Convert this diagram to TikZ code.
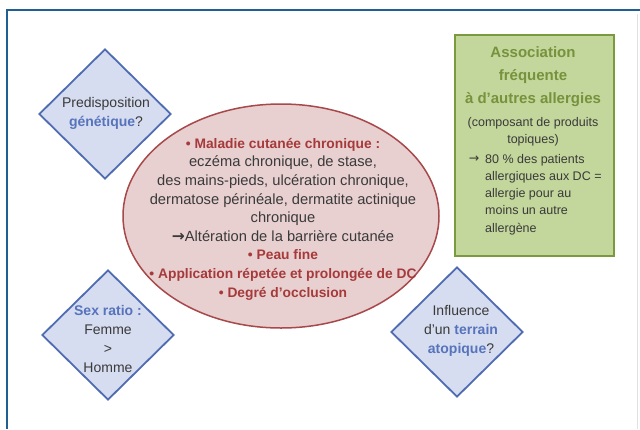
\documentclass[tikz,border=0pt]{standalone}
\usepackage{fontspec}
\setmainfont{Liberation Sans}
\newfontfamily\dejavu{DejaVu Sans}
\usetikzlibrary{shapes.geometric}
\definecolor{framec}{HTML}{1F5F92}
\definecolor{diafill}{HTML}{D7DDF0}
\definecolor{diadraw}{HTML}{4F6CB2}
\definecolor{bluetxt}{HTML}{5673BC}
\definecolor{ellfill}{HTML}{E8CFD0}
\definecolor{elldraw}{HTML}{A7484A}
\definecolor{redtxt}{HTML}{A63A3B}
\definecolor{grnfill}{HTML}{C3D69B}
\definecolor{grndraw}{HTML}{7A9A3E}
\definecolor{grntxt}{HTML}{76923C}
\definecolor{bodytxt}{HTML}{3A3A3A}
\newcommand{\redb}[1]{{\color{redtxt}\fontsize{13.8}{18.6}\bfseries\selectfont #1}}
\begin{document}
\begin{tikzpicture}[x=1pt,y=-1pt,
  dia/.style={diamond, draw=diadraw, fill=diafill, line width=1.8pt, inner sep=0pt,
              minimum width=132pt, minimum height=130pt},
  diatext/.style={align=center, inner sep=0pt, text=bodytxt,
              font=\fontsize{14}{19}\selectfont},
  elltext/.style={align=center, inner sep=0pt, text=bodytxt,
              font=\fontsize{14.7}{18.6}\selectfont}]
\useasboundingbox (0,0) rectangle (640,429);
\fill[white] (0,0) rectangle (640,429);
% frame
\draw[framec, line width=2pt] (7,429) -- (7,10) -- (640,10);
\draw[black!12, line width=1pt] (637,14) -- (637,429);

% diamonds
\node[dia] (dgen) at (105,114) {};
\node[dia] (dsex) at (108,335) {};
\node[dia] (datop) at (457,332) {};

\node[diatext] (tgen) at (106,113.5) {Predisposition\\{\bfseries\color{bluetxt}génétique}?};
\node[diatext] (tsex) at (108,339) {{\bfseries\color{bluetxt}Sex ratio :}\\Femme\\>\\Homme};
\node[diatext] (tatop) at (461,331) {Influence\\d’un {\bfseries\color{bluetxt}terrain}\\{\bfseries\color{bluetxt}atopique}?};

% ellipse
\node[ellipse, draw=elldraw, fill=ellfill, line width=1.5pt, inner sep=0pt,
      minimum width=316pt, minimum height=224pt] (ell) at (281,216) {};
\node[elltext] (tell) at (283,219) {%
  \redb{• Maladie cutanée chronique :}\\
  eczéma chronique, de stase,\\
  des mains-pieds, ulcération chronique,\\
  dermatose périnéale, dermatite actinique\\
  chronique\\
  {\dejavu\bfseries\fontsize{15.5}{18.6}\selectfont →}Altération de la barrière cutanée\\
  \redb{• Peau fine}\\
  \redb{• Application répetée et prolongée de DC}\\
  \redb{• Degré d’occlusion}};

% green box
\node[draw=grndraw, fill=grnfill, line width=1.8pt, inner sep=0pt,
      minimum width=159pt, minimum height=221pt] (gbox) at (534.5,145.5) {};
\node[align=center, inner sep=0pt, text=grntxt,
      font=\fontsize{15}{23}\bfseries\selectfont] (gtitle) at (533,77)
  {Association\\fréquente\\à d’autres allergies};
\node[align=center, inner sep=0pt, text=bodytxt,
      font=\fontsize{12.5}{17}\selectfont] (gsub) at (533,131.5)
  {(composant de produits\\topiques)};
\node[inner sep=0pt, text=bodytxt, font=\fontsize{12.5}{17}\selectfont] (garrow) at (474,159) {{\dejavu →}};
\node[align=left, anchor=west, inner sep=0pt, text=bodytxt,
      font=\fontsize{12.5}{17.25}\selectfont] (glist) at (485,194.5)
  {80 \% des patients\\allergiques aux DC =\\allergie pour au\\moins un autre\\allergène};
\end{tikzpicture}
\end{document}
